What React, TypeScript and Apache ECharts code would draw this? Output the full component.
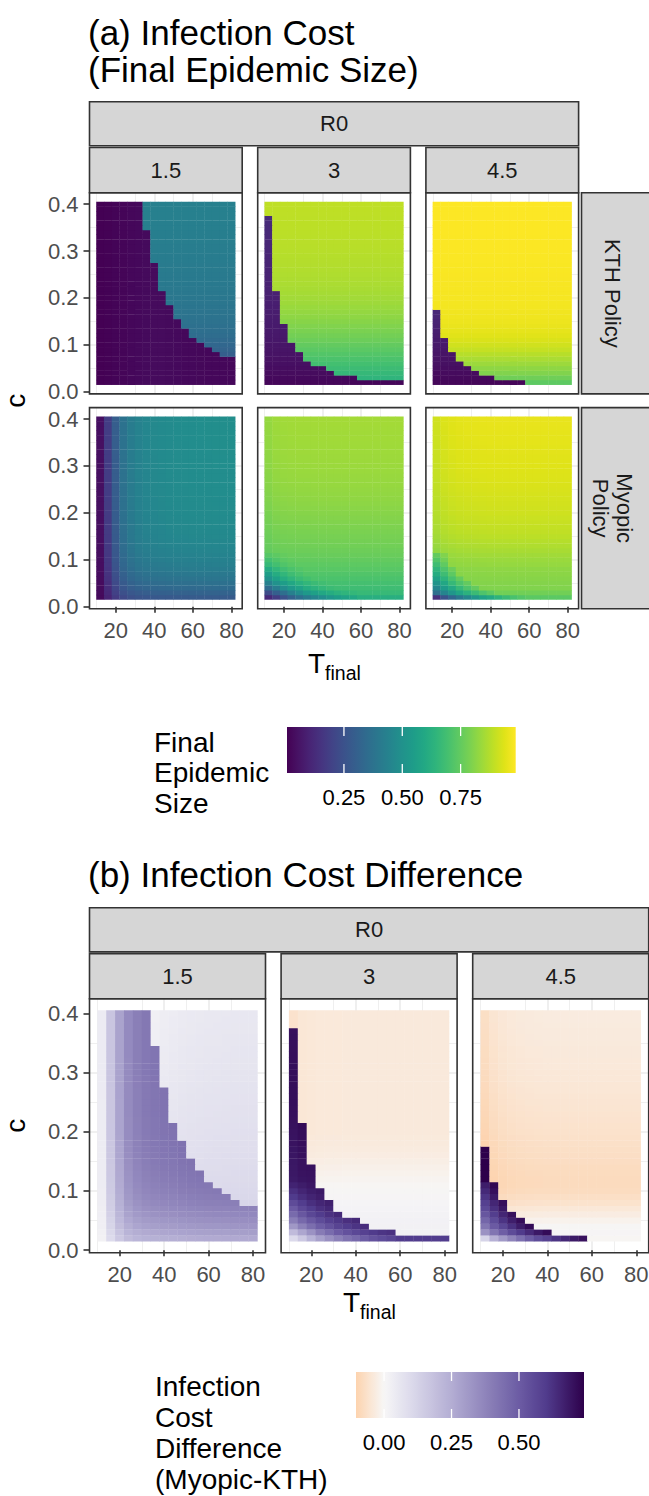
import React, { useEffect, useRef } from "react";
import * as echarts from "echarts";

// ---------------- data ----------------
const T_FINAL = [12, 16, 20, 24, 28, 32, 36, 40, 44, 48, 52, 56, 60, 64, 68, 72, 76, 80];
const C_COST = [0.02, 0.03, 0.04, 0.05, 0.06, 0.07, 0.08, 0.09, 0.1, 0.11, 0.12, 0.13, 0.14, 0.15, 0.16, 0.17, 0.18, 0.19, 0.2, 0.21, 0.22, 0.23, 0.24, 0.25, 0.26, 0.27, 0.28, 0.29, 0.3, 0.31, 0.32, 0.33, 0.34, 0.35, 0.36, 0.37, 0.38, 0.39, 0.4];
const R0_LABELS = ["1.5", "3", "4.5"];
const X_TICKS = [20, 40, 60, 80];
const Y_TICKS = [0, 0.1, 0.2, 0.3, 0.4];
const FILL_A_TICKS = [0.25, 0.5, 0.75];
const FILL_A_LABELS = ["0.25", "0.50", "0.75"];
const FILL_B_TICKS = [0, 0.25, 0.5];
const FILL_B_LABELS = ["0.00", "0.25", "0.50"];
const FILL_A_RANGE = [0.006, 0.986];
const FILL_B_RANGE = [-0.104, 0.741];

// KTH policy: number of T columns (from the left) in the contained (low) regime, per c row (c = 0.02 .. 0.40)
const KTH_COUNT_15 = [18, 18, 18, 18, 18, 18, 16, 15, 14, 13, 12, 12, 11, 11, 10, 10, 10, 9, 9, 9, 8, 8, 8, 8, 8, 8, 7, 7, 7, 7, 7, 7, 7, 6, 6, 6, 6, 6, 6];
const KTH_COUNT_3 = [18, 12, 9, 8, 6, 5, 5, 4, 4, 3, 3, 3, 3, 2, 2, 2, 2, 2, 2, 2, 1, 1, 1, 1, 1, 1, 1, 1, 1, 1, 1, 1, 1, 1, 1, 1, 0, 0, 0];
const KTH_COUNT_45 = [12, 8, 6, 5, 4, 3, 3, 2, 2, 2, 1, 1, 1, 1, 1, 1, 0, 0, 0, 0, 0, 0, 0, 0, 0, 0, 0, 0, 0, 0, 0, 0, 0, 0, 0, 0, 0, 0, 0];
// final size in the contained regime
const KTH_LOW_COL_15 = [0.006, 0.01, 0.014, 0.018, 0.022, 0.026, 0.03, 0.032, 0.032, 0.03, 0.028, 0.026, 0.025, 0.024, 0.023, 0.022, 0.022, 0.022];
const KTH_LOW_ROW_3 = [0.02, 0.028, 0.035, 0.04, 0.045, 0.05, 0.054, 0.058, 0.062, 0.066, 0.069, 0.072, 0.075, 0.078, 0.08, 0.083, 0.085, 0.088, 0.09, 0.092, 0.094, 0.096, 0.098, 0.1, 0.102, 0.104, 0.106, 0.108, 0.11, 0.112, 0.114, 0.116, 0.118, 0.12, 0.122, 0.124, 0.125, 0.125, 0.125];
const KTH_LOW_ROW_45 = [0.02, 0.027, 0.034, 0.04, 0.046, 0.052, 0.058, 0.064, 0.07, 0.076, 0.082, 0.088, 0.094, 0.1, 0.106, 0.112, 0.112, 0.112, 0.112, 0.112, 0.112, 0.112, 0.112, 0.112, 0.112, 0.112, 0.112, 0.112, 0.112, 0.112, 0.112, 0.112, 0.112, 0.112, 0.112, 0.112, 0.112, 0.112, 0.112];
// final size in the uncontained regime, per c row
const KTH_HIGH_15 = [0.27, 0.275, 0.28, 0.285, 0.29, 0.295, 0.3, 0.318, 0.332, 0.343, 0.352, 0.36, 0.367, 0.373, 0.378, 0.383, 0.387, 0.391, 0.395, 0.398, 0.401, 0.404, 0.406, 0.408, 0.41, 0.412, 0.414, 0.416, 0.418, 0.42, 0.421, 0.423, 0.424, 0.426, 0.427, 0.429, 0.43, 0.431, 0.432];
const KTH_HIGH_3 = [0.63, 0.645, 0.66, 0.675, 0.69, 0.705, 0.72, 0.735, 0.75, 0.765, 0.778, 0.79, 0.8, 0.81, 0.82, 0.828, 0.836, 0.843, 0.849, 0.854, 0.858, 0.862, 0.865, 0.868, 0.871, 0.873, 0.875, 0.877, 0.879, 0.881, 0.882, 0.884, 0.885, 0.886, 0.887, 0.888, 0.889, 0.89, 0.891];
const KTH_HIGH_45 = [0.74, 0.77, 0.8, 0.82, 0.84, 0.86, 0.88, 0.9, 0.915, 0.93, 0.94, 0.948, 0.955, 0.96, 0.964, 0.967, 0.97, 0.972, 0.974, 0.975, 0.976, 0.977, 0.978, 0.979, 0.98, 0.98, 0.981, 0.981, 0.982, 0.982, 0.983, 0.983, 0.984, 0.984, 0.984, 0.985, 0.985, 0.985, 0.986];

// Myopic policy: value along top row (per T) and right column (per c), plus the bottom-left corner cells
const MYO_TOP_15 = [0.045, 0.18, 0.295, 0.375, 0.415, 0.44, 0.455, 0.465, 0.47, 0.475, 0.478, 0.48, 0.482, 0.483, 0.484, 0.485, 0.485, 0.485];
const MYO_RIGHT_15 = [0.285, 0.315, 0.345, 0.365, 0.385, 0.4, 0.415, 0.425, 0.435, 0.443, 0.45, 0.455, 0.46, 0.464, 0.467, 0.47, 0.472, 0.474, 0.476, 0.477, 0.478, 0.479, 0.48, 0.48, 0.481, 0.481, 0.482, 0.482, 0.483, 0.483, 0.483, 0.484, 0.484, 0.484, 0.485, 0.485, 0.485, 0.485, 0.485];
const MYO_TOP_3 = [0.83, 0.843, 0.847, 0.849, 0.85, 0.85, 0.851, 0.851, 0.851, 0.851, 0.851, 0.851, 0.851, 0.851, 0.851, 0.851, 0.851, 0.851];
const MYO_RIGHT_3 = [0.62, 0.665, 0.68, 0.693, 0.705, 0.717, 0.73, 0.74, 0.75, 0.76, 0.768, 0.775, 0.78, 0.785, 0.79, 0.795, 0.8, 0.805, 0.809, 0.814, 0.818, 0.822, 0.825, 0.828, 0.831, 0.833, 0.835, 0.837, 0.839, 0.841, 0.842, 0.844, 0.845, 0.846, 0.847, 0.848, 0.849, 0.85, 0.851];
const MYO_CORNER_3 = [
  [0.12, 0.18, 0.25, 0.31, 0.36, 0.41, 0.45, 0.48, 0.52, 0.55, 0.57, 0.59],
  [0.23, 0.3, 0.36, 0.43, 0.48, 0.53, 0.56, 0.59, 0.61, 0.63, 0.645, 0.655],
  [0.35, 0.42, 0.48, 0.53, 0.57, 0.61, 0.635, 0.655, 0.67],
  [0.435, 0.5, 0.55, 0.59, 0.625, 0.65, 0.67, 0.685],
  [0.5, 0.56, 0.61, 0.645, 0.67, 0.69],
  [0.555, 0.61, 0.65, 0.68, 0.7],
  [0.605, 0.65, 0.685, 0.705, 0.72],
  [0.66, 0.69, 0.715, 0.73],
  [0.69, 0.715, 0.735, 0.745],
  [0.725, 0.74, 0.752],
];
const MYO_TOP_45 = [0.915, 0.932, 0.94, 0.945, 0.948, 0.95, 0.951, 0.952, 0.952, 0.952, 0.952, 0.952, 0.952, 0.952, 0.952, 0.952, 0.952, 0.952];
const MYO_RIGHT_45 = [0.735, 0.775, 0.8, 0.805, 0.81, 0.815, 0.82, 0.83, 0.837, 0.848, 0.858, 0.868, 0.877, 0.885, 0.892, 0.897, 0.902, 0.907, 0.912, 0.915, 0.918, 0.921, 0.924, 0.927, 0.93, 0.932, 0.934, 0.936, 0.938, 0.94, 0.941, 0.943, 0.944, 0.946, 0.947, 0.949, 0.95, 0.951, 0.952];
const MYO_CORNER_45 = [
  [0.14, 0.26, 0.33, 0.4, 0.46, 0.52, 0.57, 0.6, 0.64, 0.67, 0.7, 0.72],
  [0.36, 0.45, 0.52, 0.58, 0.63, 0.67, 0.71, 0.74],
  [0.455, 0.54, 0.6, 0.66, 0.71, 0.75],
  [0.51, 0.59, 0.66, 0.71, 0.75],
  [0.565, 0.64, 0.7, 0.75],
  [0.61, 0.68, 0.74],
  [0.645, 0.71, 0.765],
  [0.68, 0.745],
  [0.715, 0.775],
  [0.75, 0.8],
];

// ---------------- styling / layout ----------------
const FONT = '"Liberation Sans", Arial, Helvetica, sans-serif';
const CELL_W = 4;
const CELL_H = 0.01;
const X_MIN = 6.4, X_MAX = 85.6;
const Y_MIN = -0.0045, Y_MAX = 0.4245;

const VIRIDIS = ["#440154", "#471365", "#482475", "#463480", "#414487", "#3b528b", "#355f8d", "#2f6c8e", "#2a788e", "#25848e", "#21918c", "#1e9c89", "#22a884", "#2fb47c", "#44bf70", "#5ec962", "#7ad151", "#9bd93c", "#bddf26", "#dfe318", "#fde725"];
// diverging fill: [value, colour]
const DIV_STOPS: [number, string][] = [
  [-0.104, "#fdd3ae"], [0, "#f7f7f7"], [0.1, "#dcdaeb"], [0.25, "#b3add3"], [0.4, "#887cb6"], [0.5, "#6c5ca4"], [0.6, "#513c8d"], [0.741, "#2d004b"],
];

function hexRgb(h: string) {
  const n = parseInt(h.slice(1), 16);
  return [(n >> 16) & 255, (n >> 8) & 255, n & 255];
}
function divColor(v: number) {
  let i = 0;
  while (i < DIV_STOPS.length - 2 && v > DIV_STOPS[i + 1][0]) i++;
  const [v0, c0] = DIV_STOPS[i];
  const [v1, c1] = DIV_STOPS[i + 1];
  const f = Math.max(0, Math.min(1, (v - v0) / (v1 - v0)));
  const a = hexRgb(c0), b = hexRgb(c1);
  const c = a.map((x, k) => Math.round(x + (b[k] - x) * f));
  return `rgb(${c[0]},${c[1]},${c[2]})`;
}
const DIV_COLORS: string[] = [];
for (let k = 0; k <= 60; k++) DIV_COLORS.push(divColor(FILL_B_RANGE[0] + ((FILL_B_RANGE[1] - FILL_B_RANGE[0]) * k) / 60));

const KTH = [
  { count: KTH_COUNT_15, lowCol: KTH_LOW_COL_15, lowRow: null as number[] | null, high: KTH_HIGH_15 },
  { count: KTH_COUNT_3, lowCol: null as number[] | null, lowRow: KTH_LOW_ROW_3, high: KTH_HIGH_3 },
  { count: KTH_COUNT_45, lowCol: null as number[] | null, lowRow: KTH_LOW_ROW_45, high: KTH_HIGH_45 },
];
const MYO = [
  { top: MYO_TOP_15, right: MYO_RIGHT_15, corner: [] as number[][] },
  { top: MYO_TOP_3, right: MYO_RIGHT_3, corner: MYO_CORNER_3 },
  { top: MYO_TOP_45, right: MYO_RIGHT_45, corner: MYO_CORNER_45 },
];
function kthValue(k: number, j: number, i: number) {
  const p = KTH[k];
  if (j < p.count[i]) return (p.lowRow ? p.lowRow[i] : 0) + (p.lowCol ? p.lowCol[j] : 0);
  return p.high[i];
}
function myoValue(k: number, j: number, i: number) {
  const p = MYO[k];
  const row = p.corner[i];
  const cv = row ? row[j] : undefined;
  if (cv !== undefined && cv !== null) return cv;
  return (p.top[j] * p.right[i]) / p.top[p.top.length - 1];
}
function clamp(v: number, r: number[]) {
  return Math.max(r[0], Math.min(r[1], v));
}
function cells(fn: (j: number, i: number) => number, range: number[]) {
  const out: number[][] = [];
  for (let i = 0; i < C_COST.length; i++)
    for (let j = 0; j < T_FINAL.length; j++) out.push([T_FINAL[j], C_COST[i], clamp(fn(j, i), range)]);
  return out;
}

// panel geometry
const A_LEFTS = [89.5, 257.7, 425.9];
const A_W = 152.7;
const A_TOPS = [192.7, 407.6];
const A_H = 201.2;
const B_LEFTS = [89.5, 281.1, 472.7];
const B_W = 176;
const B_TOP = 998.8;
const B_H = 254;

const GRID_LINE = "#EBEBEB";
const DARK = "#333333";
const STRIP_FILL = "#D6D6D6";
const TICK_FONT = 22;

function xAxisCfg(gridIndex: number, show: boolean) {
  return {
    type: "value", gridIndex, min: X_MIN, max: X_MAX, position: "bottom",
    axisLine: { show: false },
    axisTick: { show, length: 6, customValues: X_TICKS, lineStyle: { color: DARK, width: 1.6 } },
    axisLabel: {
      show, customValues: X_TICKS, margin: 11, color: "#4D4D4D", fontSize: TICK_FONT, fontFamily: FONT,
      formatter: (v: number) => (X_TICKS.some((t) => Math.abs(t - v) < 1e-6) ? String(Math.round(v)) : ""),
    },
    splitLine: { show: true, showMinLine: false, showMaxLine: false, lineStyle: { color: GRID_LINE, width: 1.6 } },
    minorTick: { show: false, splitNumber: 2 },
    minorSplitLine: { show: true, lineStyle: { color: GRID_LINE, width: 0.8 } },
  };
}
function yAxisCfg(gridIndex: number, show: boolean) {
  return {
    type: "value", gridIndex, min: Y_MIN, max: Y_MAX, position: "left",
    axisLine: { show: false },
    axisTick: { show, length: 6, customValues: Y_TICKS, lineStyle: { color: DARK, width: 1.6 } },
    axisLabel: {
      show, customValues: Y_TICKS, margin: 11, color: "#4D4D4D", fontSize: TICK_FONT, fontFamily: FONT,
      formatter: (v: number) => (Y_TICKS.some((t) => Math.abs(t - v) < 1e-6) ? v.toFixed(1) : ""),
    },
    splitLine: { show: true, showMinLine: false, showMaxLine: false, lineStyle: { color: GRID_LINE, width: 1.6 } },
    minorTick: { show: false, splitNumber: 2 },
    minorSplitLine: { show: true, lineStyle: { color: GRID_LINE, width: 0.8 } },
  };
}

function renderCell(params: any, api: any) {
  const x = api.value(0), y = api.value(1);
  const p0 = api.coord([x - CELL_W / 2, y + CELL_H / 2]);
  const p1 = api.coord([x + CELL_W / 2, y - CELL_H / 2]);
  return {
    type: "rect",
    shape: { x: p0[0] - 0.2, y: p0[1] - 0.2, width: p1[0] - p0[0] + 0.4, height: p1[1] - p0[1] + 0.4 },
    style: { fill: api.visual("color") },
  };
}

function txt(text: string, x: number, y: number, size: number, extra: any = {}) {
  return {
    type: "text", x, y, z: 60, rotation: extra.rotation || 0, silent: true,
    style: {
      text, fontSize: size, fontFamily: FONT, fill: extra.fill || "#000000",
      align: extra.align || "center", verticalAlign: "middle", lineHeight: extra.lineHeight,
    },
  };
}
function strip(x: number, y: number, w: number, h: number) {
  return { type: "rect", z: 50, silent: true, shape: { x, y, width: w, height: h }, style: { fill: STRIP_FILL, stroke: DARK, lineWidth: 1.6 } };
}
function border(x: number, y: number, w: number, h: number) {
  return { type: "rect", z: 55, silent: true, shape: { x, y, width: w, height: h }, style: { fill: "none", stroke: DARK, lineWidth: 1.6 } };
}

function buildOption() {
  const grids: any[] = [];
  const xAxes: any[] = [];
  const yAxes: any[] = [];
  const series: any[] = [];
  const g: any[] = [];

  // ---- panel (a)
  for (let r = 0; r < 2; r++) {
    for (let k = 0; k < 3; k++) {
      const gi = grids.length;
      grids.push({ left: A_LEFTS[k], top: A_TOPS[r], width: A_W, height: A_H, show: true, backgroundColor: "#ffffff", borderWidth: 0, containLabel: false, outerBoundsMode: "none" });
      xAxes.push(xAxisCfg(gi, r === 1));
      yAxes.push(yAxisCfg(gi, k === 0));
      const fn = r === 0 ? (j: number, i: number) => kthValue(k, j, i) : (j: number, i: number) => myoValue(k, j, i);
      series.push({
        type: "custom", name: `A-${r}-${k}`, xAxisIndex: gi, yAxisIndex: gi, renderItem: renderCell,
        data: cells(fn, FILL_A_RANGE), encode: { x: 0, y: 1 }, silent: true, progressive: 0, clip: true,
      });
      g.push(border(A_LEFTS[k], A_TOPS[r], A_W, A_H));
    }
  }
  // ---- panel (b): Myopic - KTH
  for (let k = 0; k < 3; k++) {
    const gi = grids.length;
    grids.push({ left: B_LEFTS[k], top: B_TOP, width: B_W, height: B_H, show: true, backgroundColor: "#ffffff", borderWidth: 0, containLabel: false, outerBoundsMode: "none" });
    xAxes.push(xAxisCfg(gi, true));
    yAxes.push(yAxisCfg(gi, k === 0));
    series.push({
      type: "custom", name: `B-${k}`, xAxisIndex: gi, yAxisIndex: gi, renderItem: renderCell,
      data: cells((j, i) => myoValue(k, j, i) - kthValue(k, j, i), FILL_B_RANGE), encode: { x: 0, y: 1 }, silent: true, progressive: 0, clip: true,
    });
    g.push(border(B_LEFTS[k], B_TOP, B_W, B_H));
  }

  // ---- titles
  g.push(txt("(a) Infection Cost", 88, 32.5, 35, { align: "left" }));
  g.push(txt("(Final Epidemic Size)", 88, 69.5, 35, { align: "left" }));
  g.push(txt("(b) Infection Cost Difference", 88, 874, 35, { align: "left" }));

  // ---- strips (a)
  const aRight = A_LEFTS[2] + A_W;
  g.push(strip(A_LEFTS[0], 101.7, aRight - A_LEFTS[0], 44.1));
  g.push(txt("R0", (A_LEFTS[0] + aRight) / 2, 123.7, TICK_FONT, { fill: "#1A1A1A" }));
  for (let k = 0; k < 3; k++) {
    g.push(strip(A_LEFTS[k], 147.5, A_W, 45.2));
    g.push(txt(R0_LABELS[k], A_LEFTS[k] + A_W / 2, 170.1, TICK_FONT, { fill: "#1A1A1A" }));
  }
  g.push(strip(581.5, A_TOPS[0], 72, A_H));
  g.push(strip(581.5, A_TOPS[1], 72, A_H));
  g.push(txt("KTH Policy", 612, A_TOPS[0] + A_H / 2, TICK_FONT, { fill: "#1A1A1A", rotation: -Math.PI / 2 }));
  g.push(txt("Myopic\nPolicy", 612, A_TOPS[1] + A_H / 2, TICK_FONT, { fill: "#1A1A1A", rotation: -Math.PI / 2, lineHeight: 24 }));

  // ---- strips (b)
  const bRight = B_LEFTS[2] + B_W;
  g.push(strip(B_LEFTS[0], 907.8, bRight - B_LEFTS[0], 44.1));
  g.push(txt("R0", (B_LEFTS[0] + bRight) / 2, 929.8, TICK_FONT, { fill: "#1A1A1A" }));
  for (let k = 0; k < 3; k++) {
    g.push(strip(B_LEFTS[k], 953.6, B_W, 45.2));
    g.push(txt(R0_LABELS[k], B_LEFTS[k] + B_W / 2, 976.2, TICK_FONT, { fill: "#1A1A1A" }));
  }

  // ---- axis titles
  g.push(txt("c", 15.6, (A_TOPS[0] + A_TOPS[1] + A_H) / 2, 28, { rotation: Math.PI / 2 }));
  g.push(txt("c", 15.6, B_TOP + B_H / 2, 28, { rotation: Math.PI / 2 }));
  const aMid = (A_LEFTS[0] + aRight) / 2;
  g.push(txt("T", aMid - 26, 663, 28, { align: "left" }));
  g.push(txt("final", aMid - 26 + 17, 672.5, 19.5, { align: "left" }));
  const bMid = (B_LEFTS[0] + bRight) / 2;
  g.push(txt("T", bMid - 26, 1302, 28, { align: "left" }));
  g.push(txt("final", bMid - 26 + 17, 1311.5, 19.5, { align: "left" }));

  // ---- legend (a)
  const la = { x: 287, y: 727, w: 228.7, h: 46 };
  g.push({
    type: "rect", z: 50, silent: true, shape: { x: la.x, y: la.y, width: la.w, height: la.h },
    style: { fill: { type: "linear", x: 0, y: 0, x2: 1, y2: 0, colorStops: VIRIDIS.map((c, i) => ({ offset: i / (VIRIDIS.length - 1), color: c })) } },
  });
  FILL_A_TICKS.forEach((v, idx) => {
    const x = la.x + ((v - FILL_A_RANGE[0]) / (FILL_A_RANGE[1] - FILL_A_RANGE[0])) * la.w;
    g.push({ type: "line", z: 52, silent: true, shape: { x1: x, y1: la.y, x2: x, y2: la.y + 9 }, style: { stroke: "#ffffff", lineWidth: 1.3 } });
    g.push({ type: "line", z: 52, silent: true, shape: { x1: x, y1: la.y + la.h - 9, x2: x, y2: la.y + la.h }, style: { stroke: "#ffffff", lineWidth: 1.3 } });
    g.push(txt(FILL_A_LABELS[idx], x, 797.5, TICK_FONT));
  });
  ["Final", "Epidemic", "Size"].forEach((s, i) => g.push(txt(s, 154, 742 + i * 30.5, 28, { align: "left" })));

  // ---- legend (b)
  const lb = { x: 356, y: 1372, w: 228, h: 46 };
  g.push({
    type: "rect", z: 50, silent: true, shape: { x: lb.x, y: lb.y, width: lb.w, height: lb.h },
    style: { fill: { type: "linear", x: 0, y: 0, x2: 1, y2: 0, colorStops: DIV_COLORS.map((c, i) => ({ offset: i / (DIV_COLORS.length - 1), color: c })) } },
  });
  FILL_B_TICKS.forEach((v, idx) => {
    const x = lb.x + ((v - FILL_B_RANGE[0]) / (FILL_B_RANGE[1] - FILL_B_RANGE[0])) * lb.w;
    g.push({ type: "line", z: 52, silent: true, shape: { x1: x, y1: lb.y, x2: x, y2: lb.y + 9 }, style: { stroke: "#ffffff", lineWidth: 1.3 } });
    g.push({ type: "line", z: 52, silent: true, shape: { x1: x, y1: lb.y + lb.h - 9, x2: x, y2: lb.y + lb.h }, style: { stroke: "#ffffff", lineWidth: 1.3 } });
    g.push(txt(FILL_B_LABELS[idx], x, 1442.5, TICK_FONT));
  });
  ["Infection", "Cost", "Difference", "(Myopic-KTH)"].forEach((s, i) => g.push(txt(s, 155, 1386 + i * 31, 28, { align: "left" })));

  return {
    animation: false,
    backgroundColor: "#ffffff",
    grid: grids,
    xAxis: xAxes,
    yAxis: yAxes,
    visualMap: [
      { type: "continuous", show: false, seriesIndex: [0, 1, 2, 3, 4, 5], dimension: 2, min: FILL_A_RANGE[0], max: FILL_A_RANGE[1], inRange: { color: VIRIDIS } },
      { type: "continuous", show: false, seriesIndex: [6, 7, 8], dimension: 2, min: FILL_B_RANGE[0], max: FILL_B_RANGE[1], inRange: { color: DIV_COLORS } },
    ],
    series,
    graphic: { elements: g },
  };
}

export default function App() {
  const ref = useRef<HTMLDivElement>(null);
  useEffect(() => {
    if (!ref.current) return;
    const chart = echarts.init(ref.current, null, { renderer: "svg" });
    chart.setOption(buildOption() as any);
    return () => chart.dispose();
  }, []);
  return <div ref={ref} style={{ position: "absolute", left: 0, top: 0, width: 649, height: 1496, background: "#fff" }} />;
}
